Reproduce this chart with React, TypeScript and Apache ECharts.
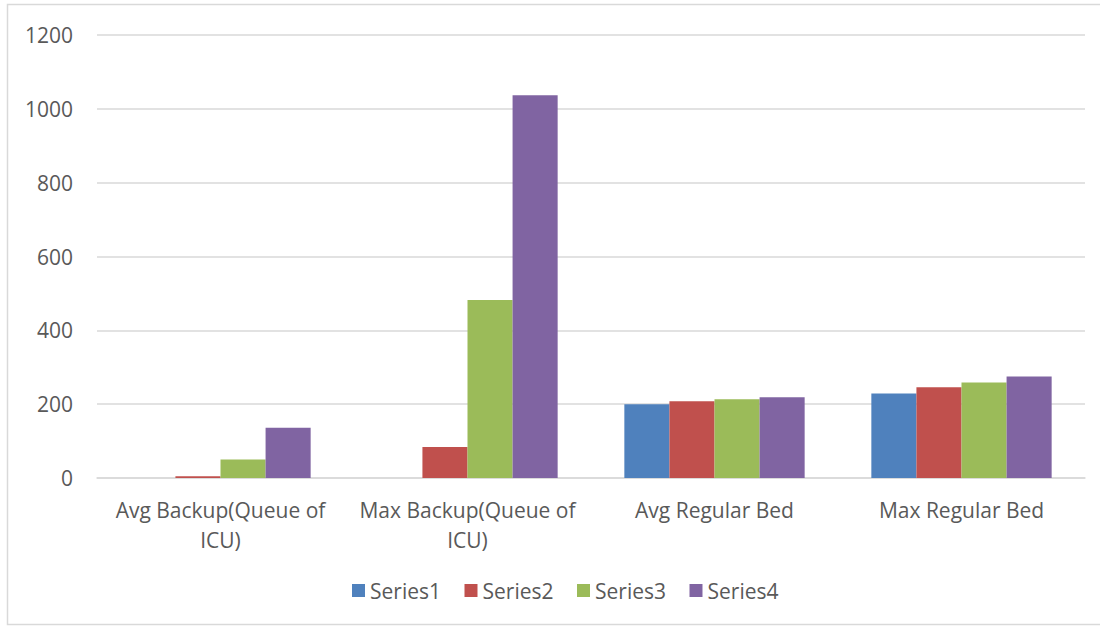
import React, { useEffect, useRef } from "react";
import * as echarts from "echarts";

const categories = ["Avg Backup(Queue of\nICU)", "Max Backup(Queue of\nICU)", "Avg Regular Bed", "Max Regular Bed"];
const seriesNames = ["Series1", "Series2", "Series3", "Series4"];
const series1 = [0, 0, 200, 229];
const series2 = [5, 84, 208, 246];
const series3 = [50, 482, 213, 259];
const series4 = [136, 1037, 219, 275];
const colors = ["#4F81BD", "#C0504D", "#9BBB59", "#8064A2"];
const yTicks = { min: 0, max: 1200, interval: 200 };

export default function App() {
  const ref = useRef<HTMLDivElement>(null);
  useEffect(() => {
    document.body.style.margin = "0";
    const chart = echarts.init(ref.current!, null, { renderer: "svg" });
    const data = [series1, series2, series3, series4];
    const font = "'Open Sans', sans-serif";
    chart.setOption({
      animation: false,
      textStyle: { fontFamily: font },
      color: colors,
      grid: { left: 97, right: 15, top: 35, bottom: 150 },
      graphic: [
        {
          type: "rect",
          shape: { x: 7.5, y: 4.5, width: 1200, height: 620 },
          style: { fill: "none", stroke: "#D9D9D9", lineWidth: 1.5 },
          silent: true,
        },
      ],
      legend: {
        top: 575,
        left: 347,
        itemWidth: 13,
        itemHeight: 13,
        itemGap: 23.5,
        icon: "rect",
        textStyle: { fontSize: 21, color: "#595959", fontFamily: font },
        data: seriesNames,
      },
      xAxis: {
        type: "category",
        data: categories,
        axisLine: { lineStyle: { color: "#D9D9D9", width: 1.5 } },
        axisTick: { show: false },
        axisLabel: {
          fontSize: 21,
          color: "#595959",
          lineHeight: 30,
          margin: 17,
          interval: 0,
          fontFamily: font,
        },
      },
      yAxis: {
        type: "value",
        min: yTicks.min,
        max: yTicks.max,
        interval: yTicks.interval,
        axisLine: { show: false },
        axisTick: { show: false },
        splitLine: { lineStyle: { color: "#D9D9D9", width: 1.5 } },
        axisLabel: {
          fontSize: 21,
          color: "#595959",
          margin: 24,
          fontFamily: font,
          formatter: (v: number) => String(v),
        },
      },
      series: seriesNames.map((name, i) => ({
        name,
        type: "bar",
        data: data[i],
        barGap: "0%",
        barCategoryGap: "27%",
        itemStyle: { color: colors[i] },
      })),
    });
    return () => chart.dispose();
  }, []);
  return <div ref={ref} style={{ width: 1100, height: 628 }} />;
}
